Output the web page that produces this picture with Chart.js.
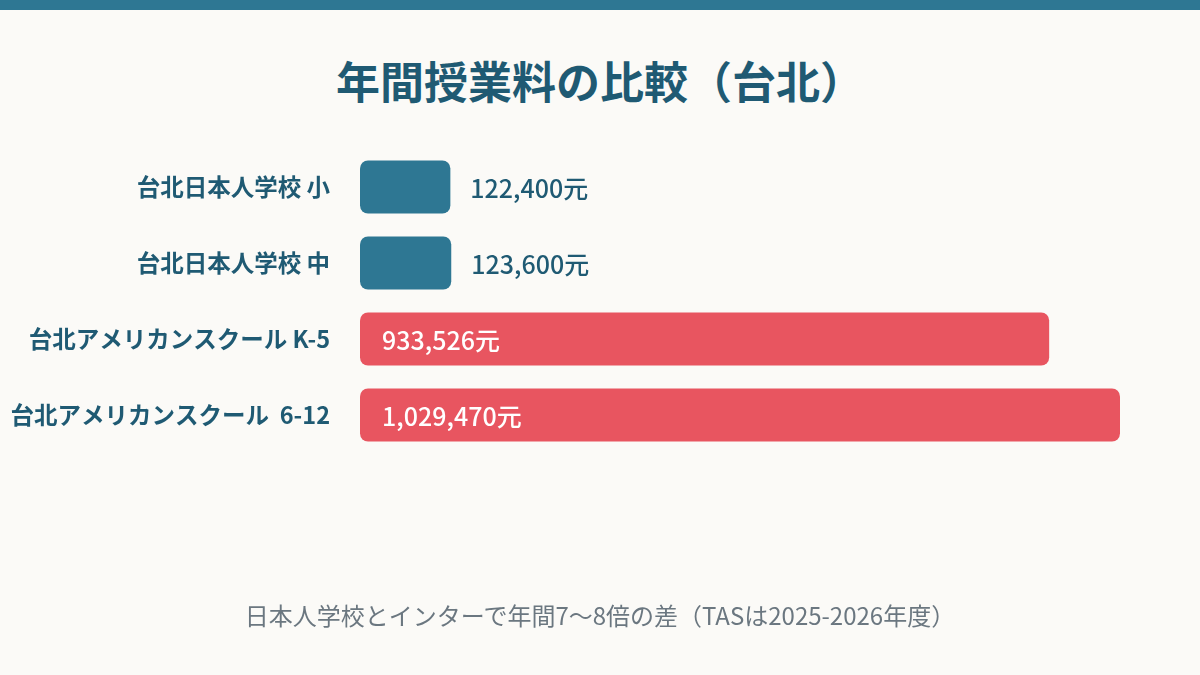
<!DOCTYPE html>
<html lang="ja">
<head>
<meta charset="utf-8">
<script src="https://cdn.jsdelivr.net/npm/chart.js@4.4.1/dist/chart.umd.min.js"></script>
<style>
  html, body { margin: 0; padding: 0; }
  body {
    width: 1200px; height: 675px; position: relative; overflow: hidden;
    background: #fbfaf7;
    font-family: "Noto Sans CJK JP", "Noto Sans", sans-serif;
  }
  #topBar { position: absolute; left: 0; top: 0; width: 1200px; height: 10px; background: #2e7793; }
  #title {
    position: absolute; left: 0; top: 50px; width: 1200px; text-align: center;
    font-size: 44px; font-weight: 700; color: #1f5a73; line-height: 60px;
  }
  #note {
    position: absolute; left: 0; top: 598px; width: 1200px; text-align: center;
    font-size: 24px; color: #6b7780; line-height: 34px;
  }
  #chartBox { position: absolute; left: 0; top: 0; width: 1200px; height: 675px; }
</style>
</head>
<body>
<div id="topBar"></div>
<div id="title">年間授業料の比較（台北）</div>
<div id="chartBox"><canvas id="feeChart" width="1200" height="675"></canvas></div>
<div id="note">日本人学校とインターで年間7〜8倍の差（TASは2025-2026年度）</div>
<script>
const schools = ["台北日本人学校 小", "台北日本人学校 中", "台北アメリカンスクール K-5", "台北アメリカンスクール  6-12"];
const fees = [122400, 123600, 933526, 1029470];
const barColors = ["#2e7793", "#2e7793", "#e85560", "#e85560"];

// value labels: outside for short bars, inside (white) for long ones
const valueLabels = {
  id: "valueLabels",
  afterDatasetsDraw(chart) {
    const ctx = chart.ctx;
    const meta = chart.getDatasetMeta(0);
    ctx.save();
    ctx.font = "500 25px 'Noto Sans CJK JP', sans-serif";
    ctx.textBaseline = "middle";
    ctx.textAlign = "left";
    meta.data.forEach((bar, i) => {
      const text = fees[i].toLocaleString("en-US") + "元";
      const width = bar.x - bar.base;
      if (width > 200) {
        ctx.fillStyle = "#ffffff";
        ctx.fillText(text, bar.base + 22, bar.y + 1);
      } else {
        ctx.fillStyle = "#1f5a73";
        ctx.fillText(text, bar.x + 20, bar.y + 1);
      }
    });
    ctx.restore();
  }
};

new Chart(document.getElementById("feeChart"), {
  type: "bar",
  data: {
    labels: schools,
    datasets: [{
      data: fees,
      backgroundColor: barColors,
      borderRadius: 8,
      borderSkipped: false,
      barPercentage: 0.7,
      categoryPercentage: 1.0
    }]
  },
  options: {
    indexAxis: "y",
    responsive: false,
    animation: false,
    devicePixelRatio: 1,
    layout: { padding: { top: 149, bottom: 222, right: 80, left: 0 } },
    scales: {
      x: { display: false, min: 0, max: 1029470 },
      y: {
        grid: { display: false, drawTicks: false },
        border: { display: false },
        ticks: {
          padding: 30,
          color: "#1f5a73",
          font: { family: "'Noto Sans CJK JP', sans-serif", size: 23.5, weight: "600" }
        },
        afterFit(scale) { scale.width = 360; }
      }
    },
    plugins: {
      legend: { display: false },
      tooltip: { enabled: false }
    }
  },
  plugins: [valueLabels]
});
</script>
</body>
</html>
